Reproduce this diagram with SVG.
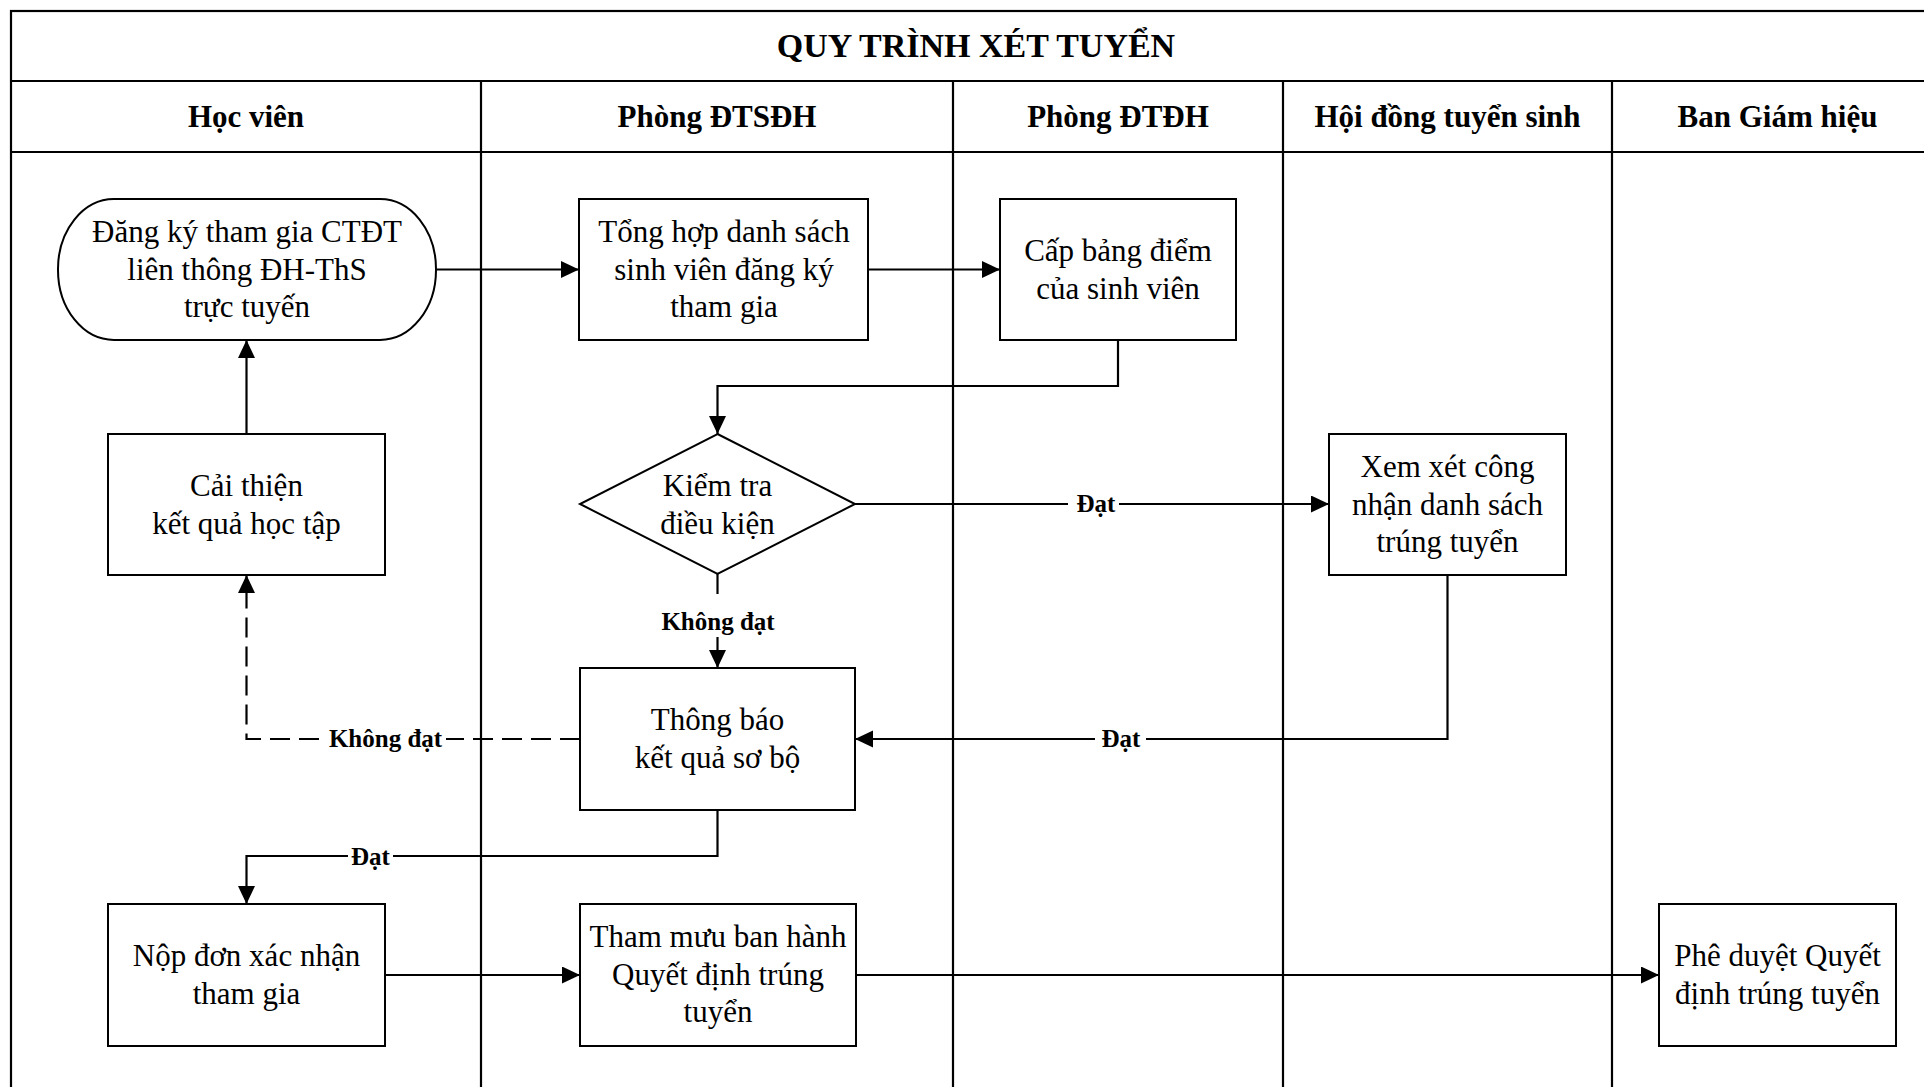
<svg xmlns="http://www.w3.org/2000/svg" width="1924" height="1087" viewBox="0 0 1924 1087">
<style>
.frame{fill:none;stroke:#000;stroke-width:2.2}
.box{fill:#fff;stroke:#000;stroke-width:2}
.t{font-family:"Liberation Serif","Times New Roman",serif;font-size:31px;fill:#000;text-anchor:middle}
.h{font-family:"Liberation Serif","Times New Roman",serif;font-size:31px;font-weight:bold;fill:#000;text-anchor:middle}
.ttl{font-family:"Liberation Serif","Times New Roman",serif;font-size:34px;font-weight:bold;fill:#000;text-anchor:middle}
.lbl{font-family:"Liberation Serif","Times New Roman",serif;font-size:25px;font-weight:bold;fill:#000;text-anchor:middle}
.c{fill:none;stroke:#000;stroke-width:2.2}
.d{stroke-dasharray:20 9}
.bg{fill:#fff;stroke:none}
</style>
<defs>
<marker id="arr" markerUnits="userSpaceOnUse" markerWidth="19" markerHeight="18" refX="18" refY="8.5" orient="auto">
<path d="M0,0 L18,8.5 L0,17 Z" fill="#000"/>
</marker>
</defs>
<rect width="1924" height="1087" fill="#fff"/>
<g id="pool">
<rect class="frame" x="11" y="11" width="1932" height="1090"/>
<line class="frame" x1="11" y1="81" x2="1943" y2="81"/>
<line class="frame" x1="11" y1="152" x2="1943" y2="152"/>
<line class="frame" x1="481" y1="81" x2="481" y2="1090"/>
<line class="frame" x1="953" y1="81" x2="953" y2="1090"/>
<line class="frame" x1="1283" y1="81" x2="1283" y2="1090"/>
<line class="frame" x1="1612" y1="81" x2="1612" y2="1090"/>
<text class="ttl" x="976" y="57">QUY TRÌNH XÉT TUYỂN</text>
<text class="h" x="246" y="127">Học viên</text>
<text class="h" x="717" y="127">Phòng ĐTSĐH</text>
<text class="h" x="1118" y="127">Phòng ĐTĐH</text>
<text class="h" x="1447.5" y="127">Hội đồng tuyển sinh</text>
<text class="h" x="1777.5" y="127">Ban Giám hiệu</text>
</g>
<g id="connectors">
<path class="c" d="M437,269.5 L579,269.5" marker-end="url(#arr)"/>
<path class="c" d="M868,269.5 L1000,269.5" marker-end="url(#arr)"/>
<path class="c" d="M1118,340 L1118,386 L717.5,386 L717.5,434" marker-end="url(#arr)"/>
<path class="c" d="M855,504 L1329,504" marker-end="url(#arr)"/>
<path class="c" d="M717.5,574 L717.5,668" marker-end="url(#arr)"/>
<path class="c" d="M1447.5,575 L1447.5,739 L855,739" marker-end="url(#arr)"/>
<path class="c d" d="M580,739 L246.5,739 L246.5,575" marker-end="url(#arr)"/>
<path class="c" d="M717.5,810 L717.5,856 L246.5,856 L246.5,904" marker-end="url(#arr)"/>
<path class="c" d="M246.5,434 L246.5,340" marker-end="url(#arr)"/>
<path class="c" d="M385,975 L580,975" marker-end="url(#arr)"/>
<path class="c" d="M856,975 L1659,975" marker-end="url(#arr)"/>
<rect class="bg" x="1068" y="492" width="51" height="26"/>
<text class="lbl" x="1096" y="512">Đạt</text>
<rect class="bg" x="655" y="594" width="125" height="43"/>
<text class="lbl" x="718" y="630">Không đạt</text>
<rect class="bg" x="1095" y="727" width="51" height="26"/>
<text class="lbl" x="1121" y="747">Đạt</text>
<rect class="bg" x="325" y="727" width="121" height="26"/>
<text class="lbl" x="385.5" y="747">Không đạt</text>
<rect class="bg" x="348" y="844" width="45" height="26"/>
<text class="lbl" x="370.5" y="865">Đạt</text>
</g>
<g id="n-dangky">
<rect class="box" x="58" y="199" width="378" height="141" rx="56" ry="70"/>
<text class="t" x="247" y="242">Đăng ký tham gia CTĐT</text>
<text class="t" x="247" y="279.5">liên thông ĐH-ThS</text>
<text class="t" x="247" y="317">trực tuyến</text>
</g>
<g id="n-tonghop">
<rect class="box" x="579" y="199" width="289" height="141"/>
<text class="t" x="724" y="242">Tổng hợp danh sách</text>
<text class="t" x="724" y="279.5">sinh viên đăng ký</text>
<text class="t" x="724" y="317">tham gia</text>
</g>
<g id="n-capbang">
<rect class="box" x="1000" y="199" width="236" height="141"/>
<text class="t" x="1118" y="261">Cấp bảng điểm</text>
<text class="t" x="1118" y="298.5">của sinh viên</text>
</g>
<g id="n-caithien">
<rect class="box" x="108" y="434" width="277" height="141"/>
<text class="t" x="246.5" y="496">Cải thiện</text>
<text class="t" x="246.5" y="533.5">kết quả học tập</text>
</g>
<g id="n-kiemtra">
<polygon class="box" points="717.5,434 855,504 717.5,574 580,504"/>
<text class="t" x="717.5" y="496">Kiểm tra</text>
<text class="t" x="717.5" y="533.5">điều kiện</text>
</g>
<g id="n-xemxet">
<rect class="box" x="1329" y="434" width="237" height="141"/>
<text class="t" x="1447.5" y="477">Xem xét công</text>
<text class="t" x="1447.5" y="514.5">nhận danh sách</text>
<text class="t" x="1447.5" y="552">trúng tuyển</text>
</g>
<g id="n-thongbao">
<rect class="box" x="580" y="668" width="275" height="142"/>
<text class="t" x="717.5" y="730">Thông báo</text>
<text class="t" x="717.5" y="767.5">kết quả sơ bộ</text>
</g>
<g id="n-nopdon">
<rect class="box" x="108" y="904" width="277" height="142"/>
<text class="t" x="246.5" y="966">Nộp đơn xác nhận</text>
<text class="t" x="246.5" y="1003.5">tham gia</text>
</g>
<g id="n-thammuu">
<rect class="box" x="580" y="904" width="276" height="142"/>
<text class="t" x="718" y="947">Tham mưu ban hành</text>
<text class="t" x="718" y="984.5">Quyết định trúng</text>
<text class="t" x="718" y="1022">tuyển</text>
</g>
<g id="n-pheduyet">
<rect class="box" x="1659" y="904" width="237" height="142"/>
<text class="t" x="1777.5" y="966">Phê duyệt Quyết</text>
<text class="t" x="1777.5" y="1003.5">định trúng tuyển</text>
</g>
</svg>
